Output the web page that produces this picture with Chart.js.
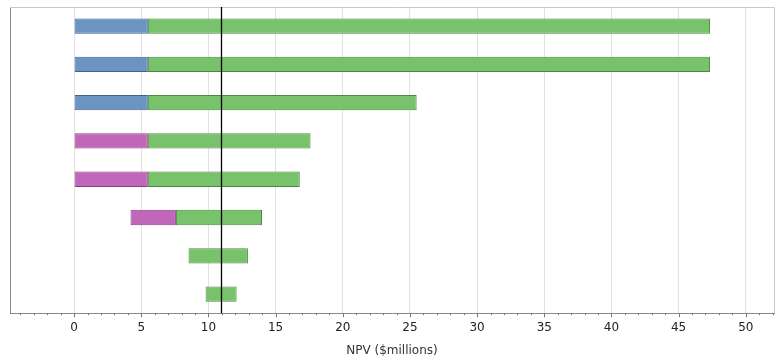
<!DOCTYPE html>
<html>
<head>
<meta charset="utf-8">
<script src="https://cdn.jsdelivr.net/npm/chart.js@4"></script>
<style>
html,body{margin:0;padding:0;background:#fff;}
#wrap{width:784px;height:362px;position:relative;}
</style>
</head>
<body>
<div id="wrap"><canvas id="c" width="784" height="362"></canvas></div>
<script>
const categories = ['Var 1','Var 2','Var 3','Var 4','Var 5','Var 6','Var 7','Var 8'];
const lowStart  = [0, 0, 0, 0, 0, 4.2, null, null];
const lowEnd    = [5.49, 5.49, 5.49, 5.49, 5.49, 7.58, null, null];
const lowGroup  = ['blue','blue','blue','magenta','magenta','magenta', null, null];
const highStart = [5.49, 5.49, 5.49, 5.49, 5.49, 7.58, 8.52, 9.79];
const highEnd   = [47.34, 47.34, 25.5, 17.6, 16.8, 13.99, 12.94, 12.1];
const baseValue = 10.96;
const xMin = -4.77, xMax = 52.1;

const blueData = categories.map((c,i)=> lowGroup[i]==='blue' ? [lowStart[i], lowEnd[i]] : null);
const magData  = categories.map((c,i)=> lowGroup[i]==='magenta' ? [lowStart[i], lowEnd[i]] : null);
const greenData= categories.map((c,i)=> [highStart[i], highEnd[i]]);

const baseLine = {
  id:'baseLine',
  afterDatasetsDraw(chart){
    const {ctx, chartArea, scales:{x}} = chart;
    const px = Math.round(x.getPixelForValue(baseValue)) + 0.5;
    ctx.save();
    ctx.strokeStyle = '#000';
    ctx.lineWidth = 1.3;
    ctx.beginPath();
    ctx.moveTo(px, chartArea.top);
    ctx.lineTo(px, chartArea.bottom);
    ctx.stroke();
    ctx.restore();
  }
};
const tickMarks = {
  id:'tickMarks',
  afterDraw(chart){
    const {ctx, chartArea, scales:{x}} = chart;
    ctx.save();
    ctx.strokeStyle = '#777';
    ctx.lineWidth = 1;
    for (let v = Math.ceil(xMin); v <= xMax; v++){
      const px = Math.round(x.getPixelForValue(v)) + 0.5;
      const len = (v % 5 === 0) ? 4 : 2;
      ctx.beginPath();
      ctx.moveTo(px, chartArea.bottom);
      ctx.lineTo(px, chartArea.bottom + len);
      ctx.stroke();
    }
    ctx.restore();
  }
};
const frame = {
  id:'frame',
  beforeDatasetsDraw(chart){
    const {ctx, chartArea:a} = chart;
    ctx.save();
    ctx.lineWidth = 1;
    ctx.strokeStyle = '#c8c8c8';
    ctx.beginPath();
    ctx.moveTo(a.left, a.top+0.5); ctx.lineTo(a.right+0.5, a.top+0.5);
    ctx.lineTo(a.right+0.5, a.bottom);
    ctx.stroke();
    ctx.restore();
  }
};

new Chart(document.getElementById('c'), {
  type:'bar',
  data:{
    labels: categories,
    datasets:[
      {label:'Low', data: blueData, backgroundColor:'#6b94c3', borderColor:'#3e6491', borderWidth:1, borderSkipped:false, grouped:false, barPercentage:0.4, categoryPercentage:1},
      {label:'Low2', data: magData, backgroundColor:'#c167b9', borderColor:'#8a3d84', borderWidth:1, borderSkipped:false, grouped:false, barPercentage:0.4, categoryPercentage:1},
      {label:'High', data: greenData, backgroundColor:'#78c26b', borderColor:'#4a8a3e', borderWidth:1, borderSkipped:false, grouped:false, barPercentage:0.4, categoryPercentage:1}
    ]
  },
  options:{
    indexAxis:'y',
    responsive:false,
    animation:false,
    layout:{padding:{left:10, right:10, top:7, bottom:4}},
    plugins:{legend:{display:false}, tooltip:{enabled:false}},
    scales:{
      x:{
        type:'linear', min:xMin, max:xMax,
        border:{display:true, color:'#888'},
        grid:{
          drawTicks:false,
          color:(c)=> (c.tick && c.tick.value % 5 === 0) ? '#e2e2e2' : 'rgba(0,0,0,0)'
        },
        ticks:{
          stepSize:1, autoSkip:false, includeBounds:false, maxRotation:0, padding:7,
          color:'#222', font:{family:'DejaVu Sans', size:12},
          callback:(v)=> (v % 5 === 0) ? String(v) : ''
        },
        title:{display:true, text:'NPV ($millions)', color:'#333', font:{family:'DejaVu Sans', size:12}, padding:{top:2, bottom:0}}
      },
      y:{
        type:'category',
        border:{display:true, color:'#888'},
        grid:{display:false, drawTicks:false},
        ticks:{display:false, padding:0},
        afterFit:(s)=>{ s.width = 0; }
      }
    }
  },
  plugins:[frame, baseLine, tickMarks]
});
</script>
</body>
</html>
